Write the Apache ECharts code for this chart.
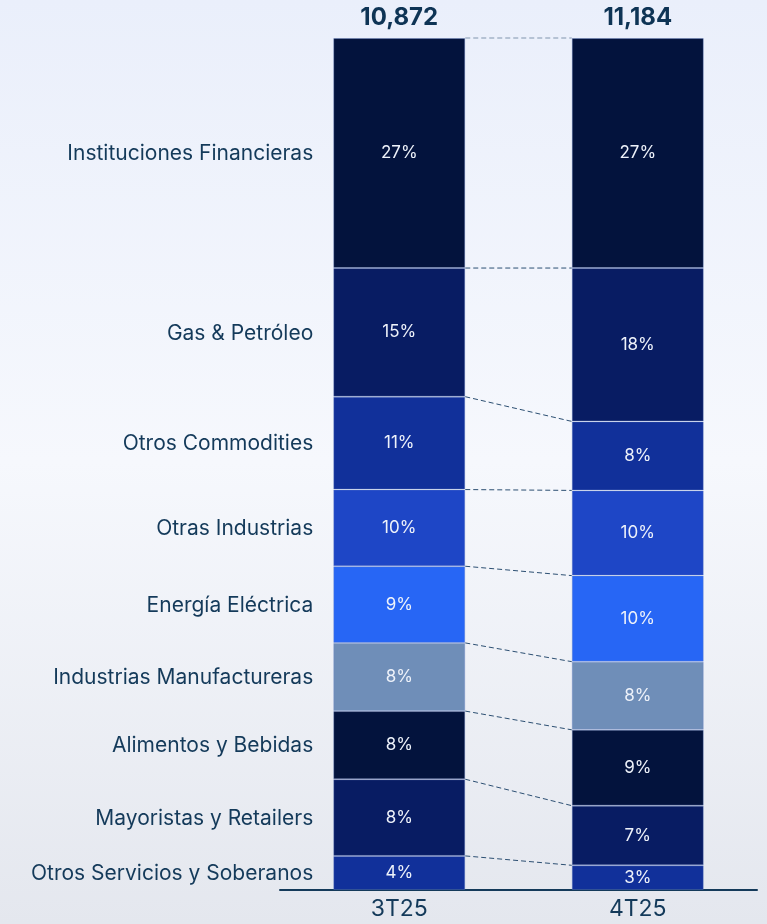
<!DOCTYPE html>
<html>
<head>
<meta charset="utf-8">
<script src="https://cdn.jsdelivr.net/npm/echarts@6/dist/echarts.min.js"></script>
<style>
html, body { margin: 0; padding: 0; }
#main { width: 767px; height: 924px; }
</style>
</head>
<body>
<div id="main"></div>
<script>
// datos
var periods = ['3T25', '4T25'];
var totals = ['10,872', '11,184'];
var sectors = [
  'Instituciones Financieras', 'Gas & Petróleo', 'Otros Commodities',
  'Otras Industrias', 'Energía Eléctrica', 'Industrias Manufactureras',
  'Alimentos y Bebidas', 'Mayoristas y Retailers', 'Otros Servicios y Soberanos'
];
var share3T = [27, 15.1, 10.9, 9.0, 9.0, 8.0, 8.0, 9.0, 4.0];
var share4T = [27, 18, 8.1, 10, 10.1, 8, 8.9, 7, 2.9];
var label3T = ['27%', '15%', '11%', '10%', '9%', '8%', '8%', '8%', '4%'];
var label4T = ['27%', '18%', '8%', '10%', '10%', '8%', '9%', '7%', '3%'];
var colors = ['#03133d', '#081c63', '#11309a', '#1e46c6', '#2766f5',
              '#6f8eb8', '#03133d', '#081c63', '#11309a'];

var barW = 132;
var txt = '#143a5a';
var font = 'Inter, "Noto Sans", sans-serif';

// acumulados para las lineas y nombres
var cumL = [0], cumR = [0];
for (var i = 0; i < sectors.length; i++) {
  cumL.push(cumL[i] + share3T[i]);
  cumR.push(cumR[i] + share4T[i]);
}
var links = [];
for (var k = 0; k < sectors.length; k++) links.push([0, cumL[k], cumR[k]]);
var namePts = sectors.map(function (s, i) { return [0, (cumL[i] + cumL[i + 1]) / 2]; });

var chart = echarts.init(document.getElementById('main'));

var series = sectors.map(function (name, i) {
  return {
    name: name,
    type: 'bar',
    stack: 'total',
    barWidth: barW,
    data: [share3T[i], share4T[i]],
    itemStyle: { color: colors[i], borderColor: 'rgba(110,135,200,0.35)', borderWidth: 1 },
    label: {
      show: true,
      position: 'inside',
      color: '#eef2fa',
      fontFamily: font,
      fontSize: 17,
      formatter: function (p) { return p.dataIndex === 0 ? label3T[i] : label4T[i]; }
    },
    emphasis: { disabled: true }
  };
});

series.push({
  type: 'custom',
  silent: true,
  z: 5,
  data: links,
  renderItem: function (params, api) {
    var a = api.coord([0, api.value(1)]);
    var b = api.coord([1, api.value(2)]);
    return {
      type: 'line',
      shape: { x1: a[0] + barW / 2, y1: a[1], x2: b[0] - barW / 2, y2: b[1] },
      style: {
        stroke: params.dataIndex === 0 ? '#8095ad' : '#2c4f72',
        lineWidth: 1,
        lineDash: [5, 3]
      }
    };
  }
});

series.push({
  type: 'custom',
  silent: true,
  data: namePts,
  clip: false,
  renderItem: function (params, api) {
    var p = api.coord([api.value(0), api.value(1)]);
    return {
      type: 'text',
      x: p[0] - barW / 2 - 20,
      y: p[1] + 1,
      style: {
        text: sectors[params.dataIndex],
        align: 'right',
        verticalAlign: 'middle',
        fill: txt,
        font: '21px ' + font
      }
    };
  }
});

chart.setOption({
  animation: false,
  backgroundColor: new echarts.graphic.LinearGradient(0, 0, 0, 1, [
    { offset: 0, color: '#eaeffb' },
    { offset: 0.5, color: '#f6f8fd' },
    { offset: 1, color: '#e4e7ee' }
  ]),
  grid: { left: 280, right: 10, top: 38, bottom: 34 },
  xAxis: [{
    type: 'category',
    data: periods,
    axisLine: { onZero: false, lineStyle: { color: txt, width: 2 } },
    axisTick: { show: false },
    axisLabel: { color: txt, fontFamily: font, fontSize: 23, margin: 8 }
  }, {
    type: 'category',
    position: 'top',
    data: totals,
    axisLine: { show: false },
    axisTick: { show: false },
    axisLabel: { color: '#0e3455', fontFamily: font, fontSize: 24, fontWeight: 'bold', margin: 8 }
  }],
  yAxis: {
    type: 'value',
    min: 0,
    max: 100,
    inverse: true,
    show: false
  },
  series: series
});
</script>
</body>
</html>
